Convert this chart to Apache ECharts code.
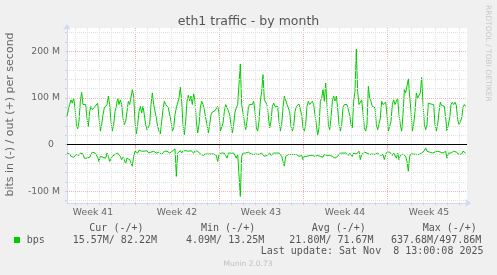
<!DOCTYPE html>
<html><head><meta charset="utf-8">
<script src="https://cdn.jsdelivr.net/npm/echarts@6/dist/echarts.min.js"></script>
<style>html,body{margin:0;padding:0;background:#F0F0F0;}#c{width:497px;height:275px;}</style>
</head><body><div id="c"></div>
<script>
// ---------- data ----------
const chartTitle = 'eth1 traffic - by month';
const yAxisName = 'bits in (-) / out (+) per second';
const weekLabels = ['Week 41', 'Week 42', 'Week 43', 'Week 44', 'Week 45'];
const weekLabelHours = [52, 220, 388, 556, 724];      // middle of each week (hours from left edge)
const weekBoundaryHours = [136, 304, 472, 640];
const firstDayHour = 16;
const spanHours = 800;
const yTickLabels = [-100, 0, 100, 200];
const stepHours = 8 / 3;                               // sample spacing
// out (+) traffic, Mbit/s
const outMbps = [
  61,75,86,96,89,100,79,43,34,50, 93,112,86,89,86,57,39,71,82,75,
  79,82,86,89,57,29,43,64,79,75, 86,104,86,50,29,43,71,82,100,86,
  96,86,57,43,50,71,93,86,89,118, 104,50,23,43,71,82,68,82,64,43,
  32,29,43,86,111,86,82,57,39,29, 23,50,75,93,86,82,79,
  75,50,29,36,64,79,82,100,123,93, 43,21,50,93,106,94,104,86,109,93,
  50,25,43,79,93,86,75,57,43,25, 43,64,70,68,73,70,82,68,29,25,
  46,71,86,89,73,64,43,25,43,70, 79,86,82,173,86,82,50,32,50,79,
  86,87,86,93,71,36,29,50,93,114, 150,96,93,86,82,
  36,50,82,89,82,86,82,50,29,43, 79,104,100,86,89,71,39,29,39,71,
  82,86,87,86,64,36,29,43,82,93, 86,89,93,86,64,43,21,36,93,100,
  118,93,132,86,43,32,57,93,104,94, 104,79,43,29,43,79,86,87,86,86,
  64,43,36,93,114,205,114,86,89,96, 68,36,29,43,125,
  100,93,82,79,79,43,32,29,57,93, 86,82,91,64,29,27,50,86,96,86,
  87,100,64,43,29,64,118,111,107,141, 104,71,29,43,71,111,100,96,111,144,
  89,43,32,43,89,87,87,87,86,43, 29,43,71,91,84,87,82,57,29,31,
  57,86,91,86,91,84,54,43,43,57, 79,86,82
];
// in (-) traffic, Mbit/s (magnitudes, drawn below zero)
const inMbps = [
  18,21,20,25,23,27,25,21,25,23, 18,21,20,29,32,29,30,27,25,16,
  14,18,21,27,36,25,29,27,30,29, 18,25,36,32,25,23,21,20,18,16,
  25,32,27,32,41,29,32,32,36,46, 25,14,13,18,12,13,14,13,14,16,
  13,18,14,16,13,14,16,18,16,16, 13,21,25,14,13,14,16,
  18,16,14,11,9,68,18,14,13,18, 13,14,13,16,14,16,13,14,18,13,
  11,14,18,20,18,23,21,20,18,20, 21,20,18,20,21,23,36,21,20,18,
  16,18,20,29,18,16,18,20,18,21, 29,20,21,111,25,18,20,18,20,16,
  18,20,18,21,18,20,18,21,23,18, 21,25,23,23,25,
  18,23,21,18,20,18,20,18,21,25, 36,46,25,23,21,23,21,23,21,23,
  21,23,25,21,23,32,25,23,25,21, 23,25,23,21,25,27,23,21,25,21,
  27,21,18,23,25,23,21,25,23,29, 32,25,21,18,20,18,20,18,21,23,
  18,16,25,18,16,20,18,14,32,21, 18,16,18,18,16,
  21,18,20,18,21,20,18,21,23,20, 21,32,21,16,18,16,20,23,18,20,
  29,18,32,23,21,20,23,25,36,57, 25,20,23,20,23,21,18,21,25,18,
  14,13,7,14,18,16,14,18,14,16, 13,14,13,16,13,18,16,14,29,18,
  16,18,16,14,18,16,20,21,18,20, 14,16,18
];
const legendHeader = ['Cur (-/+)', 'Min (-/+)', 'Avg (-/+)', 'Max (-/+)'];
const legendValues = ['15.57M/ 82.22M', '4.09M/ 13.25M', '21.80M/ 71.67M', '637.68M/497.86M'];
const legendName = 'bps';
const lastUpdate = 'Last update: Sat Nov  8 13:00:08 2025';
const versionText = 'Munin 2.0.73';
const watermark = 'RRDTOOL / TOBI OETIKER';

// ---------- build ----------
const outData = outMbps.map((v, i) => [i * stepHours, v]);
const inData = inMbps.map((v, i) => [i * stepHours, -v]);
const dayHours = [];
for (let h = firstDayHour; h < spanHours; h += 24) dayHours.push(h);
const yMinor = [];
for (let v = -120; v <= 240; v += 20) yMinor.push(v);

const minorC = '#e0e0e0', majorC = '#f0b4b4';
const gridLines = [];
dayHours.forEach(h => gridLines.push({xAxis: h, lineStyle: {color: weekBoundaryHours.includes(h) ? majorC : minorC, type: [1, 1], width: 1}}));
yMinor.forEach(v => { if (v !== 0) gridLines.push({yAxis: v, lineStyle: {color: (v % 100 === 0) ? majorC : minorC, type: [1, 1], width: 1}}); });
gridLines.push({yAxis: 0, lineStyle: {color: '#000', type: 'solid', width: 1.2}});

const FONT = 'DejaVu Sans';
const MONO = 'DejaVu Sans Mono';
const txt = '#666';
const legendColor = '#555';
const headerX = [89.3, 201, 311.7, 422.7];
const valueX = [72.7, 186, 289.3, 391];

const graphics = [
  {type: 'text', x: 10, y: 114.5, rotation: Math.PI / 2, style: {text: yAxisName, fill: txt, font: '11px "' + FONT + '"', textAlign: 'center', textVerticalAlign: 'middle'}},
  {type: 'text', x: 487.5, y: 5, rotation: -Math.PI / 2, style: {text: watermark, fill: '#c8c8c8', font: '7.5px "' + FONT + '"', textAlign: 'left', textVerticalAlign: 'middle'}},
  {type: 'rect', shape: {x: 14, y: 237, width: 6, height: 6}, style: {fill: '#00CC00'}},
  {type: 'text', x: 26.7, y: 240, style: {text: legendName, fill: legendColor, font: '10px "' + MONO + '"', textAlign: 'left', textVerticalAlign: 'middle'}},
  {type: 'text', x: 483.5, y: 251.5, style: {text: lastUpdate, fill: legendColor, font: '10px "' + MONO + '"', textAlign: 'right', textVerticalAlign: 'middle'}},
  {type: 'text', x: 248, y: 264.5, style: {text: versionText, fill: '#c0c0c0', font: '7.5px "' + FONT + '"', textAlign: 'center', textVerticalAlign: 'middle'}}
];
legendHeader.forEach((t, i) => graphics.push({type: 'text', x: headerX[i], y: 228.5, style: {text: t, fill: legendColor, font: '10px "' + MONO + '"', textAlign: 'left', textVerticalAlign: 'middle'}}));
legendValues.forEach((t, i) => graphics.push({type: 'text', x: valueX[i], y: 240, style: {text: t, fill: legendColor, font: '10px "' + MONO + '"', textAlign: 'left', textVerticalAlign: 'middle'}}));

const chart = echarts.init(document.getElementById('c'), null, {renderer: 'canvas'});
chart.setOption({
  animation: false,
  backgroundColor: '#F0F0F0',
  title: {text: chartTitle, left: 'center', top: 10, textStyle: {fontFamily: FONT, fontSize: 12.5, fontWeight: 'normal', color: '#555'}},
  grid: {left: 67, top: 28, width: 400, height: 175, show: true, backgroundColor: '#FFFFFF', borderWidth: 0},
  xAxis: [{
    type: 'value', min: 0, max: spanHours, position: 'bottom',
    axisLine: {show: true, onZero: false, lineStyle: {color: '#CFD6F8'}, symbol: ['none', 'arrow'], symbolSize: [6, 6], symbolOffset: [0, 4]},
    axisTick: {show: true, customValues: dayHours, length: 2, lineStyle: {color: '#d0d0d0'}},
    axisLabel: {customValues: weekLabelHours, formatter: v => weekLabels[weekLabelHours.indexOf(v)], color: txt, fontSize: 9.3, fontFamily: FONT, margin: 5},
    splitLine: {show: false}
  }, {
    type: 'value', min: 0, max: spanHours, position: 'bottom',
    axisLine: {show: false},
    axisTick: {show: true, customValues: weekBoundaryHours, length: 3, lineStyle: {color: '#e99'}},
    axisLabel: {show: false}, splitLine: {show: false}
  }],
  yAxis: {
    type: 'value', min: -125, max: 250,
    axisLine: {show: true, onZero: false, lineStyle: {color: '#CFD6F8'}, symbol: ['none', 'arrow'], symbolSize: [6, 6], symbolOffset: [0, 4]},
    axisTick: {show: true, customValues: yMinor, length: 2, lineStyle: {color: '#d0d0d0'}},
    axisLabel: {customValues: yTickLabels, color: txt, fontSize: 9.3, fontFamily: FONT, margin: 7,
      formatter: v => v === 0 ? '{z|0}' : v + ' M',
      rich: {z: {color: txt, fontSize: 9.3, fontFamily: FONT, padding: [0, 6, 0, 0]}}},
    splitLine: {show: false}
  },
  graphic: graphics,
  series: [
    {type: 'line', data: [], z: 1, silent: true,
      markLine: {silent: true, symbol: ['none', 'none'], label: {show: false}, emphasis: {disabled: true}, data: gridLines}},
    {type: 'line', name: 'out', data: outData, showSymbol: false, z: 3, lineStyle: {color: '#00CC00', width: 1}, itemStyle: {color: '#00CC00'}},
    {type: 'line', name: 'in', data: inData, showSymbol: false, z: 3, lineStyle: {color: '#00CC00', width: 1}, itemStyle: {color: '#00CC00'}}
  ]
});
</script>
</body></html>
